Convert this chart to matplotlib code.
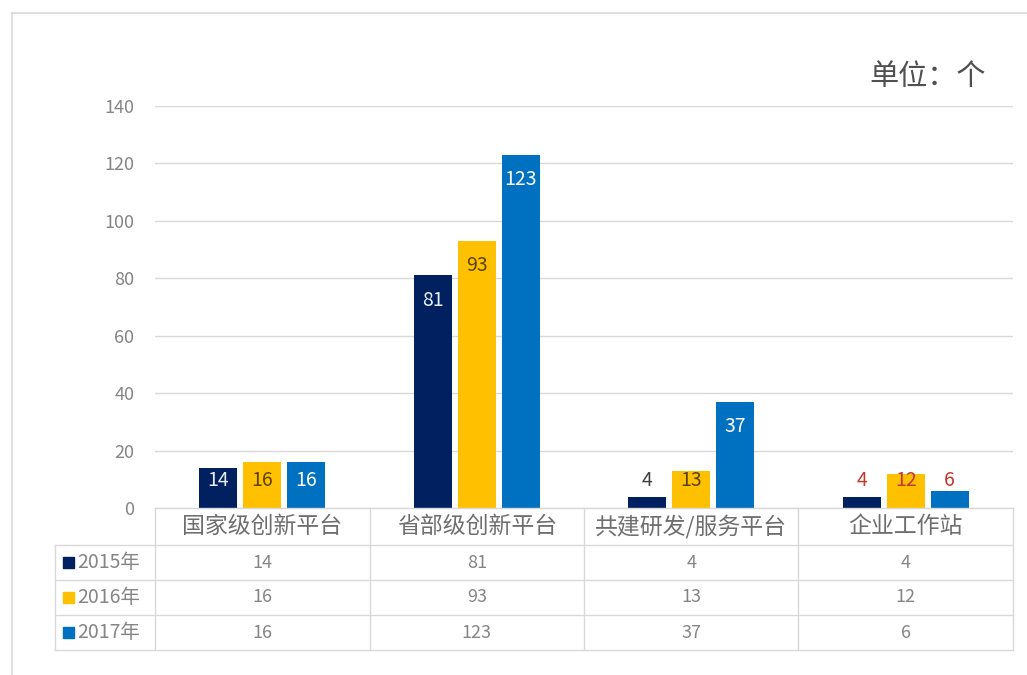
import matplotlib.pyplot as plt
from matplotlib.patches import Rectangle
from matplotlib.lines import Line2D

plt.rcParams['font.family'] = ['Noto Sans CJK SC', 'DejaVu Sans']

categories = ['国家级创新平台', '省部级创新平台', '共建研发/服务平台', '企业工作站']
years = ['2015年', '2016年', '2017年']
v2015 = [14, 81, 4, 4]
v2016 = [16, 93, 13, 12]
v2017 = [16, 123, 37, 6]
series = [v2015, v2016, v2017]
yticks = [0, 20, 40, 60, 80, 100, 120, 140]

colors = ['#002060', '#FFC000', '#0070C0']
# colour of the value label drawn on each bar, per series / category
label_colors = [
    ['#e8eef8', '#e8eef8', '#404040', '#c0392b'],
    ['#5c4200', '#5c4200', '#5c4200', '#c0392b'],
    ['#ffffff', '#ffffff', '#ffffff', '#c0392b'],
]
grey = '#858585'
line_c = '#d9d9d9'

W, H = 1027, 675
fig = plt.figure(figsize=(W / 100, H / 100), dpi=100)
fig.patch.set_facecolor('white')

# outer frame
fig.add_artist(Line2D([12 / W, 12 / W], [0, 1 - 13 / H], color=line_c, lw=1.2))
fig.add_artist(Line2D([12 / W, 1], [1 - 13 / H, 1 - 13 / H], color=line_c, lw=1.2))

left, right, top, base = 155, 1013, 106, 508
ax = fig.add_axes([left / W, 1 - base / H, (right - left) / W, (base - top) / H])
ax.set_xlim(-0.5, 3.5)
ax.set_ylim(0, 140)
ax.patch.set_alpha(0)
for s in ax.spines.values():
    s.set_visible(False)
ax.set_xticks([])
ax.set_yticks(yticks)
ax.tick_params(axis='y', length=0, pad=15, labelsize=13, labelcolor=grey)
ax.yaxis.grid(True, color=line_c, lw=1)
ax.set_axisbelow(True)

px_x = 4 / (right - left)      # data units per pixel, x
px_y = 140 / (base - top)      # data units per pixel, y
bw = 38 * px_x
step = 44 * px_x

for i, vals in enumerate(series):
    off = (i - 1) * step
    for j, v in enumerate(vals):
        x = j + off
        ax.bar(x, v, width=bw, color=colors[i], zorder=2)
        ly = max(v - 25 * px_y, 28 * px_y)
        ax.text(x, ly, str(v), ha='center', va='center', fontsize=14,
                color=label_colors[i][j], zorder=3)

# unit label
fig.text(986 / W, 1 - 77 / H, '单位：个', ha='right', va='center',
         fontsize=21, color='#505050', fontweight='light')

# data table under the axis
row_edges = [0, 37, 72, 107, 142]   # pixel offsets below the baseline
tl = -0.5 - 100 * px_x
tr = 3.5
for k, r in enumerate(row_edges):
    x0 = -0.5 if k == 0 else tl
    ax.add_line(Line2D([x0, tr], [-r * px_y] * 2, color=line_c, lw=1,
                       clip_on=False))
for xv in [tl, -0.5, 0.5, 1.5, 2.5, 3.5]:
    y0 = 0 if xv != tl else -row_edges[1] * px_y
    ax.add_line(Line2D([xv, xv], [y0, -row_edges[-1] * px_y], color=line_c,
                       lw=1, clip_on=False))

hy = -(row_edges[0] + row_edges[1]) / 2 * px_y
for j, c in enumerate(categories):
    ax.text(j, hy, c, ha='center', va='center', fontsize=16.5, color='#6e6e6e',
            clip_on=False)

for i, vals in enumerate(series):
    ry = -(row_edges[i + 1] + row_edges[i + 2]) / 2 * px_y
    sq = 11
    ax.add_patch(Rectangle((tl + 8 * px_x, ry - sq / 2 * px_y), sq * px_x,
                           sq * px_y, color=colors[i], clip_on=False))
    ax.text(tl + 22 * px_x, ry, years[i], ha='left', va='center', fontsize=14,
            color=grey, clip_on=False)
    for j, v in enumerate(vals):
        ax.text(j, ry, str(v), ha='center', va='center', fontsize=13,
                color=grey, clip_on=False)

fig.savefig('out.png', dpi=100, facecolor='white')
